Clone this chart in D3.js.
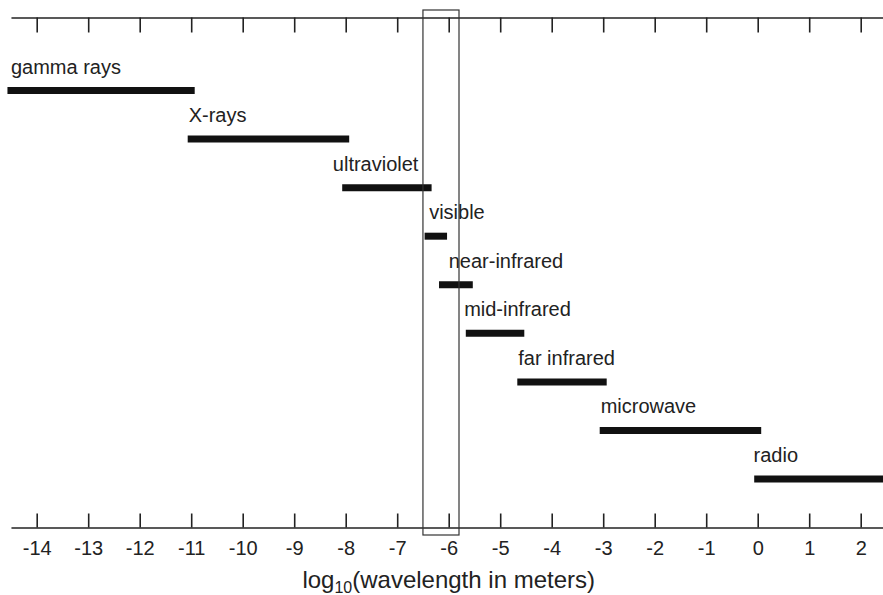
<!DOCTYPE html>
<html>
<head>
<meta charset="utf-8">
<script src="https://cdn.jsdelivr.net/npm/d3@7"></script>
<style>
  body { margin: 0; background: #fff; }
  svg { display: block; font-family: "Liberation Sans", Arial, Helvetica, sans-serif; }
</style>
</head>
<body>
<script>
const w = 883;
const h = 595;

// bands of the spectrum, log10(wavelength in meters)
const bands = ["gamma rays", "X-rays", "ultraviolet", "visible", "near-infrared",
               "mid-infrared", "far infrared", "microwave", "radio"];
const bandFrom = [-14.5, -11, -8, -6.4, -6.12, -5.6, -4.6, -3, 0];
const bandTo   = [-11, -8, -6.4, -6.1, -5.6, -4.6, -3, 0, 2.5];
const labelAt  = [-14.5, -11.05, -8.25, -6.38, -6.0, -5.7, -4.65, -3.05, -0.08];
const ticks = d3.range(-14, 3);
const visibleBox = [-6.5, -5.8];

const svg = d3.select("body")
              .append("svg")
              .attr("width", w)
              .attr("height", h);

const x = d3.scaleLinear()
    .domain([-14, 2])
    .range([36.7, 860.7]);
const xFull = x.copy().domain([-14.5, 2.5]).range([x(-14.5), x(2.5)]);

const y = d3.scalePoint()
    .domain(bands)
    .range([90.5, 479]);

const topY = 17.5;
const bottomY = 527.5;

// bottom axis, ticks pointing up (plain hyphen for minus)
const bottomAxis = svg.append("g")
    .attr("transform", "translate(0," + bottomY + ")")
    .call(d3.axisBottom(xFull).tickValues(ticks).tickSize(-14).tickSizeOuter(0).tickPadding(13)
      .tickFormat(d => String(d)));

// top axis, ticks pointing down, no labels
const topAxis = svg.append("g")
    .attr("transform", "translate(0," + topY + ")")
    .call(d3.axisTop(xFull).tickValues(ticks).tickSize(-15).tickSizeOuter(0).tickFormat(""));

[bottomAxis, topAxis].forEach(g => {
  g.select(".domain").attr("stroke", "#222").attr("stroke-width", 1.6);
  g.selectAll(".tick line").attr("stroke", "#222").attr("stroke-width", 1.6);
  g.selectAll(".tick text")
    .attr("fill", "#222")
    .style("font-size", "20px")
    .style("font-family", "'Liberation Sans', Arial, sans-serif");
});

// bars
svg.append("g")
  .selectAll("line")
  .data(bands)
  .join("line")
    .attr("x1", (d, i) => x(bandFrom[i]))
    .attr("x2", (d, i) => x(bandTo[i]))
    .attr("y1", d => y(d))
    .attr("y2", d => y(d))
    .attr("stroke", "#111")
    .attr("stroke-width", 7)
    .attr("stroke-linecap", "square");

// labels
svg.append("g")
  .selectAll("text")
  .data(bands)
  .join("text")
    .attr("x", (d, i) => x(labelAt[i]))
    .attr("y", d => y(d) - 17)
    .attr("fill", "#222")
    .style("font-size", "20px")
    .text(d => d);

// box around the visible part
svg.append("rect")
    .attr("x", x(visibleBox[0]))
    .attr("y", 10)
    .attr("width", x(visibleBox[1]) - x(visibleBox[0]))
    .attr("height", 535 - 10)
    .attr("fill", "none")
    .attr("stroke", "#333")
    .attr("stroke-width", 1.2);

// axis title
const title = svg.append("text")
    .attr("x", x(-6))
    .attr("y", 588)
    .attr("text-anchor", "middle")
    .attr("fill", "#222")
    .style("font-size", "24px");
title.append("tspan").text("log");
title.append("tspan").attr("dy", 5).style("font-size", "16px").text("10");
title.append("tspan").attr("dy", -5).text("(wavelength in meters)");
</script>
</body>
</html>
